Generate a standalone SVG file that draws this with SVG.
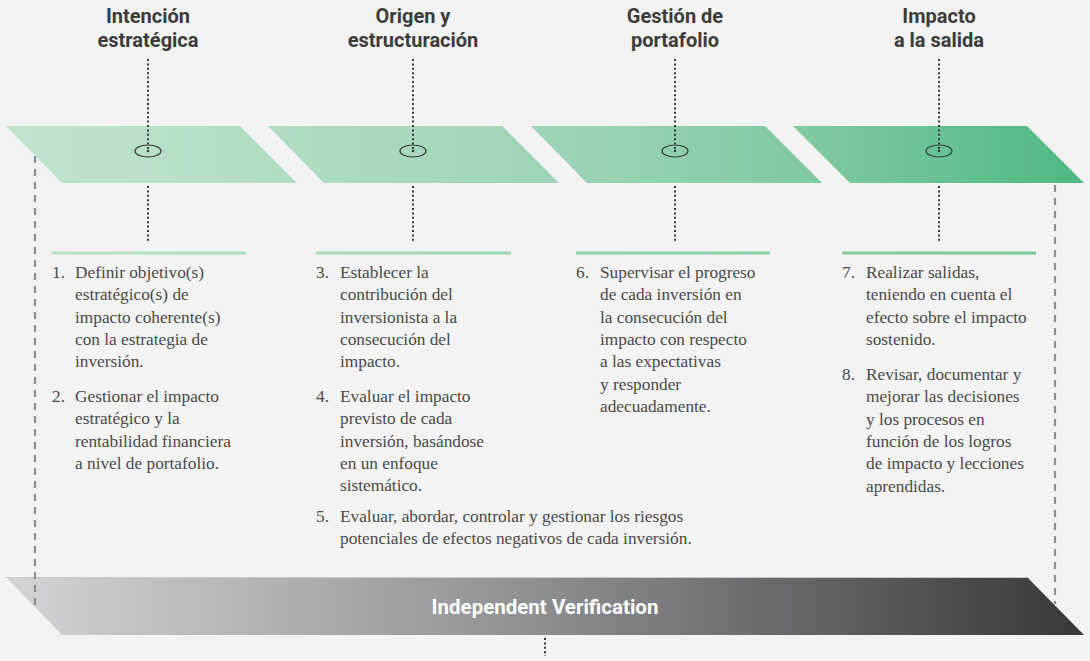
<svg xmlns="http://www.w3.org/2000/svg" width="1090" height="661" viewBox="0 0 1090 661">
  <defs>
    <linearGradient id="gGreen" gradientUnits="userSpaceOnUse" x1="0" y1="0" x2="1090" y2="0">
      <stop offset="0" stop-color="#c2e5cf"/>
      <stop offset="0.5" stop-color="#9fd5b7"/>
      <stop offset="0.75" stop-color="#7fc9a0"/>
      <stop offset="1" stop-color="#4db882"/>
    </linearGradient>
    <linearGradient id="gLine" gradientUnits="userSpaceOnUse" x1="0" y1="0" x2="1090" y2="0">
      <stop offset="0" stop-color="#bde3cb"/>
      <stop offset="1" stop-color="#74c898"/>
    </linearGradient>
    <linearGradient id="gBar" gradientUnits="userSpaceOnUse" x1="6" y1="0" x2="1084" y2="0">
      <stop offset="0" stop-color="#d3d4d6"/>
      <stop offset="0.5" stop-color="#8d8e91"/>
      <stop offset="1" stop-color="#38383a"/>
    </linearGradient>
  </defs>
  <style>
    .head { font-family: Roboto, "Liberation Sans", sans-serif; font-weight: 700; font-size: 20px; fill: #3c3c3c; text-anchor: middle; }
    .body { font-family: "Liberation Serif", "DejaVu Serif", serif; font-size: 17.3px; fill: #4a4a4a; }
    .para { fill: url(#gGreen); }
    .rule { stroke: url(#gLine); stroke-width: 3; }
    .hub { fill: none; stroke: #3a3a3a; stroke-width: 1.2; }
    .dot { fill: #3a3a3a; }
    .dotted { stroke: #3a3a3a; stroke-width: 2; stroke-dasharray: 2 2.4; fill: none; }
    .dashed { stroke: #8f8f8f; stroke-width: 2.2; stroke-dasharray: 7 6; fill: none; }
    .bartext { font-family: Roboto, "Liberation Sans", sans-serif; font-weight: 700; font-size: 20.5px; fill: #ffffff; text-anchor: middle; }
  </style>
  <rect x="0" y="0" width="1090" height="661" fill="#f2f3f2"/>

  <g id="phase1">
    <polygon class="para" points="6,126 240,126 297,183 62,183"/>
    <text class="head" x="148" y="23">Intención</text>
    <text class="head" x="148" y="47">estratégica</text>
    <ellipse class="hub" cx="148" cy="151" rx="13" ry="6"/>
    <circle class="dot" cx="148" cy="151" r="1.3"/>
    <line class="rule" x1="52" y1="253" x2="246" y2="253"/>
    <text class="body"><tspan x="52" y="278">1.</tspan><tspan x="75" y="278">Definir objetivo(s)</tspan><tspan x="75" y="300.3">estratégico(s) de</tspan><tspan x="75" y="322.6">impacto coherente(s)</tspan><tspan x="75" y="344.9">con la estrategia de</tspan><tspan x="75" y="367.2">inversión.</tspan></text>
    <text class="body"><tspan x="52" y="402">2.</tspan><tspan x="75" y="402">Gestionar el impacto</tspan><tspan x="75" y="424.3">estratégico y la</tspan><tspan x="75" y="446.6">rentabilidad financiera</tspan><tspan x="75" y="468.9">a nivel de portafolio.</tspan></text>
  </g>

  <g id="phase2">
    <polygon class="para" points="268,126 502,126 559,183 324,183"/>
    <text class="head" x="413" y="23">Origen y</text>
    <text class="head" x="413" y="47">estructuración</text>
    <ellipse class="hub" cx="413" cy="151" rx="13" ry="6"/>
    <circle class="dot" cx="413" cy="151" r="1.3"/>
    <line class="rule" x1="316" y1="253" x2="511" y2="253"/>
    <text class="body"><tspan x="316" y="278">3.</tspan><tspan x="340" y="278">Establecer la</tspan><tspan x="340" y="300.3">contribución del</tspan><tspan x="340" y="322.6">inversionista a la</tspan><tspan x="340" y="344.9">consecución del</tspan><tspan x="340" y="367.2">impacto.</tspan></text>
    <text class="body"><tspan x="316" y="402">4.</tspan><tspan x="340" y="402">Evaluar el impacto</tspan><tspan x="340" y="424.3">previsto de cada</tspan><tspan x="340" y="446.6">inversión, basándose</tspan><tspan x="340" y="468.9">en un enfoque</tspan><tspan x="340" y="491.2">sistemático.</tspan></text>
    <text class="body"><tspan x="316" y="522">5.</tspan><tspan x="340" y="522">Evaluar, abordar, controlar y gestionar los riesgos</tspan><tspan x="340" y="544">potenciales de efectos negativos de cada inversión.</tspan></text>
  </g>

  <g id="phase3">
    <polygon class="para" points="531,126 765,126 822,183 587,183"/>
    <text class="head" x="675" y="23">Gestión de</text>
    <text class="head" x="675" y="47">portafolio</text>
    <ellipse class="hub" cx="675" cy="151" rx="13" ry="6"/>
    <circle class="dot" cx="675" cy="151" r="1.3"/>
    <line class="rule" x1="576" y1="253" x2="770" y2="253"/>
    <text class="body"><tspan x="576" y="278">6.</tspan><tspan x="600" y="278">Supervisar el progreso</tspan><tspan x="600" y="300.3">de cada inversión en</tspan><tspan x="600" y="322.6">la consecución del</tspan><tspan x="600" y="344.9">impacto con respecto</tspan><tspan x="600" y="367.2">a las expectativas</tspan><tspan x="600" y="389.5">y responder</tspan><tspan x="600" y="411.8">adecuadamente.</tspan></text>
  </g>

  <g id="phase4">
    <polygon class="para" points="793,126 1027,126 1084,183 850,183"/>
    <text class="head" x="939" y="23">Impacto</text>
    <text class="head" x="939" y="47">a la salida</text>
    <ellipse class="hub" cx="939" cy="151" rx="13" ry="6"/>
    <circle class="dot" cx="939" cy="151" r="1.3"/>
    <line class="rule" x1="842" y1="253" x2="1036" y2="253"/>
    <text class="body"><tspan x="842" y="278">7.</tspan><tspan x="866" y="278">Realizar salidas,</tspan><tspan x="866" y="300.3">teniendo en cuenta el</tspan><tspan x="866" y="322.6">efecto sobre el impacto</tspan><tspan x="866" y="344.9">sostenido.</tspan></text>
    <text class="body"><tspan x="842" y="380">8.</tspan><tspan x="866" y="380">Revisar, documentar y</tspan><tspan x="866" y="402.3">mejorar las decisiones</tspan><tspan x="866" y="424.6">y los procesos en</tspan><tspan x="866" y="446.9">función de los logros</tspan><tspan x="866" y="469.2">de impacto y lecciones</tspan><tspan x="866" y="491.5">aprendidas.</tspan></text>
  </g>

  <g id="verification">
    <polygon points="6,577 1027,577 1084,635 62,635" fill="url(#gBar)"/>
    <line x1="6" y1="577.5" x2="1027" y2="577.5" stroke="#c9c9cb" stroke-width="1"/>
    <text class="bartext" x="545" y="614">Independent Verification</text>
  </g>

  <g id="connectors">
    <line class="dotted" x1="148" y1="59" x2="148" y2="151"/>
    <line class="dotted" x1="148" y1="186" x2="148" y2="242"/>
    <line class="dotted" x1="413" y1="59" x2="413" y2="151"/>
    <line class="dotted" x1="413" y1="186" x2="413" y2="242"/>
    <line class="dotted" x1="675" y1="59" x2="675" y2="151"/>
    <line class="dotted" x1="675" y1="186" x2="675" y2="242"/>
    <line class="dotted" x1="939" y1="59" x2="939" y2="151"/>
    <line class="dotted" x1="939" y1="186" x2="939" y2="242"/>
    <line class="dashed" x1="35" y1="156" x2="35" y2="605"/>
    <line class="dashed" x1="1055" y1="185" x2="1055" y2="604"/>
    <line class="dotted" x1="545" y1="638" x2="545" y2="656" stroke="#666"/>
  </g>
</svg>
